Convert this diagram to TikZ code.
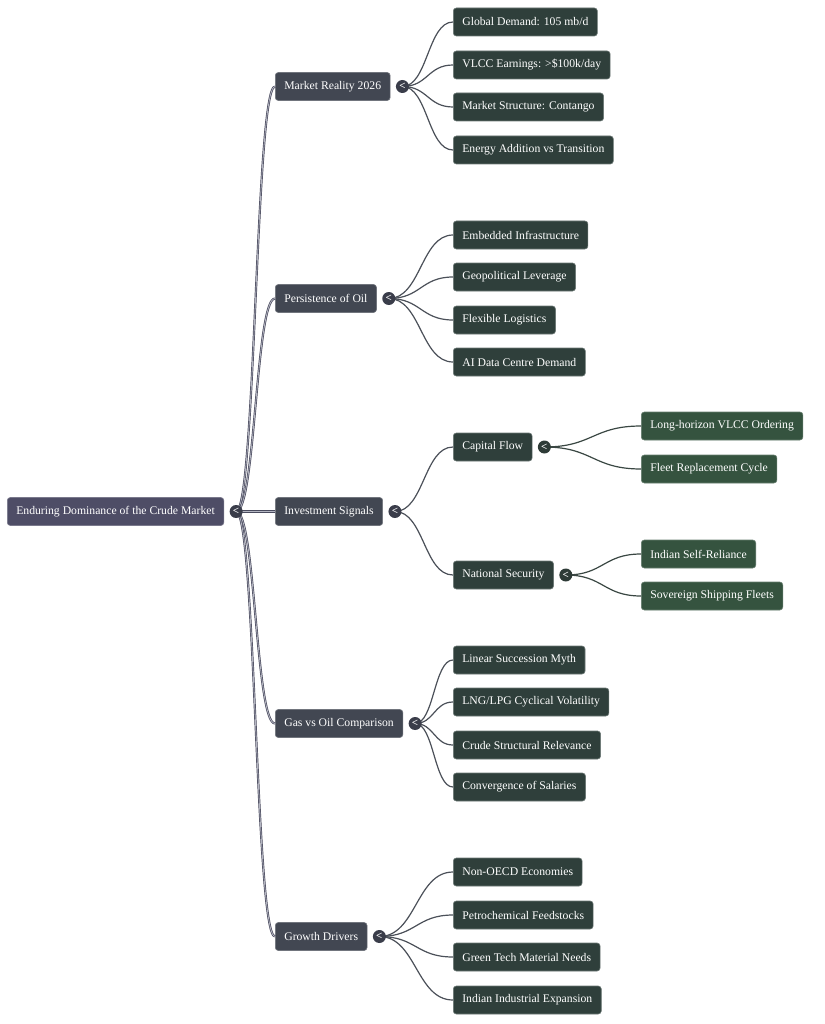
\documentclass[tikz,border=0pt]{standalone}
\usepackage{fontspec}
\setmainfont{Liberation Serif}
\usetikzlibrary{calc}
\definecolor{rootc}{HTML}{4E4D66}
\definecolor{lonec}{HTML}{424752}
\definecolor{ltwoc}{HTML}{2F3F3B}
\definecolor{lthreec}{HTML}{35533F}
\definecolor{btnc}{HTML}{3A3D4A}
\definecolor{btntwo}{HTML}{2E3B37}
\definecolor{edgeone}{HTML}{4B5059}
\definecolor{edgetwo}{HTML}{3A4743}
\definecolor{rootedge}{HTML}{4A4B5E}
\definecolor{rootedgein}{HTML}{B4B6C2}
\tikzset{
  boxbase/.style={rounded corners=3pt, minimum height=28pt, inner xsep=9pt, inner ysep=0pt, anchor=west, text=white, font=\fontsize{11.7}{13}\selectfont},
  rootbox/.style={boxbase, fill=rootc, draw=rootc!75!white, line width=0.6pt},
  onebox/.style={boxbase, fill=lonec, draw=lonec!75!white, line width=0.6pt},
  twobox/.style={boxbase, fill=ltwoc, draw=ltwoc!70!white, line width=0.6pt},
  threebox/.style={boxbase, fill=lthreec, draw=lthreec!75!white, line width=0.6pt},
  btn/.style={circle, inner sep=0pt, minimum size=13pt, fill=#1, text=white, font=\fontsize{11}{11}\selectfont\bfseries},
  btn/.default=btnc,
  edgeA/.style={line width=1.2pt, edgeone},
  edgeB/.style={line width=1.2pt, edgetwo},
}
\newcommand\linkit[3]{\draw[#1] let \p1=(#2), \p2=(#3) in (\p1) .. controls ({(\x1+\x2)/2},\y1) and ({(\x1+\x2)/2},\y2) .. (\p2);}
\newcommand\rootlink[2]{%
  \draw[line width=2.2pt, rootedge] let \p1=(#1), \p2=(#2) in (\p1) .. controls ({(\x1+\x2)/2},\y1) and ({(\x1+\x2)/2},\y2) .. (\p2);
  \draw[line width=0.8pt, rootedgein] let \p1=(#1), \p2=(#2) in (\p1) .. controls ({(\x1+\x2)/2},\y1) and ({(\x1+\x2)/2},\y2) .. (\p2);}
\begin{document}
\begin{tikzpicture}[x=1pt,y=-1pt]
\useasboundingbox[fill=white] (0,0) rectangle (824,1024);
% root
\node[rootbox] (root) at (7,511.5) {Enduring Dominance of the Crude Market};
% level 1
\node[onebox] (mr) at (275,86.5) {Market Reality 2026};
\node[onebox] (po) at (275,298.5) {Persistence of Oil};
\node[onebox] (is) at (275,511.5) {Investment Signals};
\node[onebox] (gv) at (275,723.5) {Gas vs Oil Comparison};
\node[onebox] (gd) at (275,936.5) {Growth Drivers};
% level 2
\node[twobox] (a1) at (453,22) {Global Demand: 105 mb/d};
\node[twobox] (a2) at (453,65) {VLCC Earnings: >\$100k/day};
\node[twobox] (a3) at (453,107) {Market Structure: Contango};
\node[twobox] (a4) at (453,150) {Energy Addition vs Transition};
\node[twobox] (p1) at (453,235) {Embedded Infrastructure};
\node[twobox] (p2) at (453,277) {Geopolitical Leverage};
\node[twobox] (p3) at (453,320) {Flexible Logistics};
\node[twobox] (p4) at (453,362) {AI Data Centre Demand};
\node[twobox] (i1) at (453,447) {Capital Flow};
\node[twobox] (i2) at (453,575) {National Security};
\node[twobox] (g1) at (453,660) {Linear Succession Myth};
\node[twobox] (g2) at (453,702) {LNG/LPG Cyclical Volatility};
\node[twobox] (g3) at (453,745) {Crude Structural Relevance};
\node[twobox] (g4) at (453,787) {Convergence of Salaries};
\node[twobox] (d1) at (453,872) {Non-OECD Economies};
\node[twobox] (d2) at (453,915) {Petrochemical Feedstocks};
\node[twobox] (d3) at (453,957) {Green Tech Material Needs};
\node[twobox] (d4) at (453,1000) {Indian Industrial Expansion};
% level 3
\node[threebox] (c1) at (641,426) {Long-horizon VLCC Ordering};
\node[threebox] (c2) at (641,469) {Fleet Replacement Cycle};
\node[threebox] (s1) at (641,554) {Indian Self-Reliance};
\node[threebox] (s2) at (641,596) {Sovereign Shipping Fleets};
% button coordinates
\coordinate (b0) at ($(root.east)+(12,0)$);
\coordinate (bmr) at ($(mr.east)+(12,0)$);
\coordinate (bpo) at ($(po.east)+(12,0)$);
\coordinate (bis) at ($(is.east)+(12,0)$);
\coordinate (bgv) at ($(gv.east)+(12,0)$);
\coordinate (bgd) at ($(gd.east)+(12,0)$);
\coordinate (bi1) at ($(i1.east)+(12,0)$);
\coordinate (bi2) at ($(i2.east)+(12,0)$);
% edges
\rootlink{b0}{mr.west}
\rootlink{b0}{po.west}
\rootlink{b0}{is.west}
\rootlink{b0}{gv.west}
\rootlink{b0}{gd.west}
\foreach \t in {a1,a2,a3,a4}{\linkit{edgeA}{bmr}{\t.west}}
\foreach \t in {p1,p2,p3,p4}{\linkit{edgeA}{bpo}{\t.west}}
\foreach \t in {i1,i2}{\linkit{edgeA}{bis}{\t.west}}
\foreach \t in {g1,g2,g3,g4}{\linkit{edgeA}{bgv}{\t.west}}
\foreach \t in {d1,d2,d3,d4}{\linkit{edgeA}{bgd}{\t.west}}
\foreach \t in {c1,c2}{\linkit{edgeB}{bi1}{\t.west}}
\foreach \t in {s1,s2}{\linkit{edgeB}{bi2}{\t.west}}
% buttons
\node[btn] (k0) at (b0) {<};
\node[btn] (kmr) at (bmr) {<};
\node[btn] (kpo) at (bpo) {<};
\node[btn] (kis) at (bis) {<};
\node[btn] (kgv) at (bgv) {<};
\node[btn] (kgd) at (bgd) {<};
\node[btn=btntwo] (ki1) at (bi1) {<};
\node[btn=btntwo] (ki2) at (bi2) {<};
\end{tikzpicture}
\end{document}
